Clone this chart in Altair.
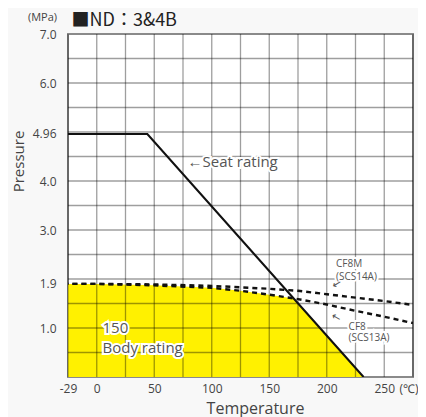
import altair as alt
import pandas as pd

# ---- data ----
seat_t = [-29, 44, 232]
seat_p = [4.96, 4.96, 0.0]

cf8_t = [-29, 0, 50, 100, 125, 150, 175, 200, 225, 250, 275]
cf8_p = [1.90, 1.90, 1.87, 1.82, 1.76, 1.68, 1.59, 1.48, 1.35, 1.23, 1.10]

cf8m_t = [-29, 0, 50, 100, 150, 175, 200, 225, 250, 275]
cf8m_p = [1.90, 1.90, 1.89, 1.86, 1.80, 1.76, 1.69, 1.62, 1.55, 1.47]

x_ticks = [-25, 0, 25, 50, 75, 100, 125, 150, 175, 200, 225, 250, 275]
y_grid = [0.5, 1.0, 1.5, 2.0, 2.5, 3.0, 3.5, 4.0, 4.5, 5.0, 5.5, 6.0, 6.5]
y_labels = [1.0, 1.9, 3.0, 4.0, 4.96, 6.0, 7.0]

notes_text = ["←Seat rating", "CF8M", "(SCS14A)", "CF8", "(SCS13A)"]
notes_t = [79, 208, 208, 219, 219]
notes_p = [4.38, 2.30, 2.05, 1.03, 0.79]
notes_size = [15, 10, 10, 10, 10]

arrow_t = [209, 208]
arrow_p = [1.89, 1.21]
arrow_angle = [330, 30]

body_text = ["150", "Body rating"]
body_t = [5, 5]
body_p = [1.01, 0.59]

# ---- derived: yellow body-rating area (below CF8 and seat rating) ----
def seat_at(t):
    for i in range(len(seat_t) - 1):
        if seat_t[i] <= t <= seat_t[i + 1]:
            f = (t - seat_t[i]) / (seat_t[i + 1] - seat_t[i])
            return seat_p[i] + f * (seat_p[i + 1] - seat_p[i])
    return 0.0

area_t, area_p = [], []
for i in range(len(cf8_t)):
    t, p = cf8_t[i], cf8_p[i]
    if p <= seat_at(t):
        area_t.append(t); area_p.append(p)
    else:
        t0, p0 = cf8_t[i - 1], cf8_p[i - 1]
        d0 = seat_at(t0) - p0
        d1 = seat_at(t) - p
        f = d0 / (d0 - d1)
        tc = t0 + f * (t - t0)
        area_t.append(tc); area_p.append(p0 + f * (p - p0))
        break
area_t.append(seat_t[-1]); area_p.append(0.0)

FONT = "Open Sans"
XS = alt.Scale(domain=[-25, 275], nice=False, zero=False)
YS = alt.Scale(domain=[0, 7], nice=False, zero=False)

x_axis = alt.Axis(
    values=x_ticks,
    labelExpr="datum.value == -25 ? '-29' : datum.value == 275 ? '(℃)' : (datum.value % 50 == 0 ? datum.label : '')",
    labelAlign={"condition": {"test": "datum.value == 275", "value": "right"}, "value": "center"},
    labelOffset={"condition": {"test": "datum.value == 275", "value": 5}, "value": 0},
    grid=False, ticks=False, domain=False, labelPadding=6, labelFontSize=12,
    labelColor="#444", labelFont=FONT, labelFlush=False,
    title="Temperature", titleFontSize=16, titleFontWeight="normal", titleColor="#444",
    titleFont=FONT, titleX=187, titleY=31, titleAnchor="middle", titleBaseline="middle",
)
X = alt.X("t:Q", scale=XS, axis=x_axis)

y_axis_main = alt.Axis(
    values=y_labels, grid=False, ticks=False, domain=False, labelPadding=12,
    labelFontSize=12, labelColor="#444", labelFont=FONT,
    labelExpr="datum.value == 4.96 ? '4.96' : format(datum.value, '.1f')",
    title="Pressure", titleFontSize=15, titleFontWeight="normal", titleColor="#444",
    titleFont=FONT, titleX=-50, titleY=127, titleAngle=270, titleBaseline="middle",
    titleAlign="center", orient="left",
)
y_axis_unit = alt.Axis(
    values=[], grid=False, ticks=False, domain=False, labels=False,
    title="(MPa)", titleFontSize=11, titleFontWeight="normal", titleColor="#444",
    titleFont=FONT, titleX=-26, titleY=-17, titleAngle=0, titleBaseline="middle",
    titleAlign="center", orient="left",
)
y_axis_head = alt.Axis(
    values=[], grid=False, ticks=False, domain=False, labels=False,
    title="■ND：3&4B", titleFontSize=18, titleFontWeight="normal", titleColor="#222",
    titleFont="Noto Sans CJK JP", titleX=3, titleY=-14, titleAngle=0, titleBaseline="middle",
    titleAlign="left", orient="left",
)

area_df = pd.DataFrame({"t": area_t, "p": area_p})
area = alt.Chart(area_df).mark_area(color="#FFF100", opacity=1, clip=True).encode(
    x=X, y=alt.Y("p:Q", scale=YS, axis=y_axis_main),
)

vgrid = alt.Chart(pd.DataFrame({"t": x_ticks})).mark_rule(
    color="black", opacity=0.38, strokeWidth=1.3).encode(x=X)
hgrid = alt.Chart(pd.DataFrame({"p": y_grid})).mark_rule(
    color="black", opacity=0.38, strokeWidth=1.3).encode(
    y=alt.Y("p:Q", scale=YS, axis=None))

seat_df = pd.DataFrame({"t": seat_t, "p": seat_p})
seat = alt.Chart(seat_df).mark_line(color="#111", strokeWidth=2.1, clip=True).encode(
    x=X, y=alt.Y("p:Q", scale=YS, axis=y_axis_unit),
)

cf8 = alt.Chart(pd.DataFrame({"t": cf8_t, "p": cf8_p})).mark_line(
    color="#111", strokeWidth=2.4, strokeDash=[5, 4], clip=True).encode(
    x=X, y=alt.Y("p:Q", scale=YS, axis=y_axis_head),
)
cf8m = alt.Chart(pd.DataFrame({"t": cf8m_t, "p": cf8m_p})).mark_line(
    color="#111", strokeWidth=2.4, strokeDash=[5, 4], clip=True).encode(
    x=X, y=alt.Y("p:Q", scale=YS, axis=None),
)

notes_df = pd.DataFrame({"txt": notes_text, "t": notes_t, "p": notes_p, "s": notes_size})
notes_enc = dict(
    x=X, y=alt.Y("p:Q", scale=YS, axis=None),
    text="txt:N",
    size=alt.Size("s:Q", scale=None, legend=None),
)
notes_halo = alt.Chart(notes_df).mark_text(
    align="left", baseline="middle", font=FONT, color="white",
    stroke="white", strokeWidth=4).encode(**notes_enc)
notes = alt.Chart(notes_df).mark_text(
    align="left", baseline="middle", font=FONT, color="#555").encode(**notes_enc)

arrows = alt.Chart(pd.DataFrame({"t": arrow_t, "p": arrow_p, "a": arrow_angle, "txt": ["←", "←"]})).mark_text(
    align="center", baseline="middle", font="DejaVu Sans", fontSize=11, color="#555").encode(
    x=X, y=alt.Y("p:Q", scale=YS, axis=None),
    text="txt:N",
    angle=alt.Angle("a:Q", scale=None),
)

body_df = pd.DataFrame({"txt": body_text, "t": body_t, "p": body_p})
body_enc = dict(x=X, y=alt.Y("p:Q", scale=YS, axis=None), text="txt:N")
body_halo = alt.Chart(body_df).mark_text(
    align="left", baseline="middle", font=FONT, fontSize=15, color="white",
    stroke="white", strokeWidth=4).encode(**body_enc)
body = alt.Chart(body_df).mark_text(
    align="left", baseline="middle", font=FONT, fontSize=15, color="#555").encode(**body_enc)

chart = alt.layer(
    area, vgrid, hgrid, seat, cf8, cf8m, notes_halo, notes, arrows, body_halo, body
).resolve_axis(y="independent").properties(
    width=345, height=343,
    autosize=alt.AutoSizeParams(type="none"),
    padding={"left": 60, "top": 26, "right": 5, "bottom": 40},
    background="#f8f8f8",
).configure_view(stroke="#8a8a8a", strokeWidth=2, fill="white")

chart.save("out.html", embed_options={"renderer": "svg", "actions": False})
